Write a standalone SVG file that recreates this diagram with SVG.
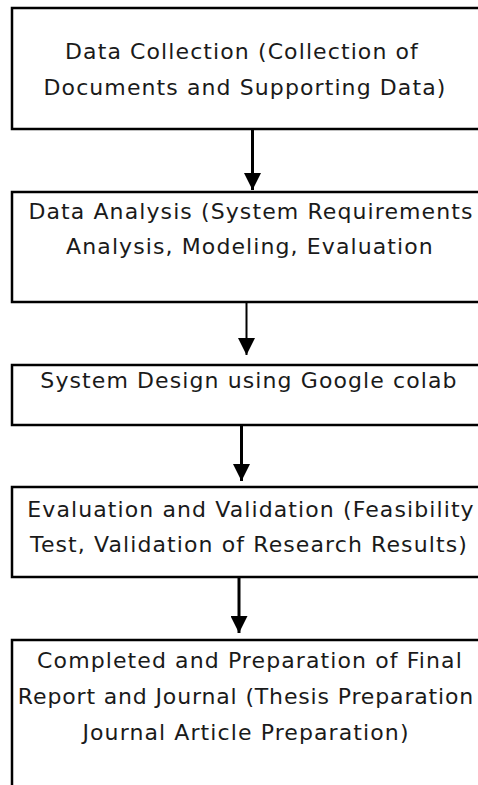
<svg xmlns="http://www.w3.org/2000/svg" width="478" height="785" viewBox="0 0 478 785">
<defs>
<marker id="ah" markerWidth="17" markerHeight="17" viewBox="0 0 17 17" refX="17" refY="8.5" orient="auto" markerUnits="userSpaceOnUse">
<path d="M0,0 L17,8.5 L0,17 Z" fill="#000"/>
</marker>
</defs>
<style>
rect.box { fill: #fff; stroke: #000; stroke-width: 2.5; }
text { font-family: "DejaVu Sans", "Noto Sans", sans-serif; font-size: 22px; letter-spacing: 1.1px; fill: #1a1a1a; text-anchor: middle; }
.conn line { stroke: #000; stroke-width: 3; }
</style>
<rect width="478" height="785" fill="#fff"/>
<g id="n1">
<rect class="box" x="12" y="8" width="500" height="121"/>
<text x="242" y="59">Data Collection (Collection of</text>
<text x="245" y="95">Documents and Supporting Data)</text>
</g>
<g id="n2">
<rect class="box" x="12" y="192" width="500" height="110"/>
<text x="251" y="219">Data Analysis (System Requirements</text>
<text x="250" y="254">Analysis, Modeling, Evaluation</text>
</g>
<g id="n3">
<rect class="box" x="12" y="365" width="500" height="60"/>
<text x="249" y="388">System Design using Google colab</text>
</g>
<g id="n4">
<rect class="box" x="12" y="487" width="500" height="90"/>
<text x="251" y="517">Evaluation and Validation (Feasibility</text>
<text x="249" y="552">Test, Validation of Research Results)</text>
</g>
<g id="n5">
<rect class="box" x="12" y="640" width="500" height="160"/>
<text x="250" y="668">Completed and Preparation of Final</text>
<text x="246" y="704" style="letter-spacing:0.85px">Report and Journal (Thesis Preparation</text>
<text x="246" y="740">Journal Article Preparation)</text>
</g>
<g id="connectors" class="conn">
<line x1="252.5" y1="130" x2="252.5" y2="190" marker-end="url(#ah)"/>
<line x1="246.5" y1="303" x2="246.5" y2="355" marker-end="url(#ah)" style="stroke-width:2"/>
<line x1="241.5" y1="426" x2="241.5" y2="481" marker-end="url(#ah)"/>
<line x1="239" y1="578" x2="239" y2="633" marker-end="url(#ah)"/>
</g>
</svg>
